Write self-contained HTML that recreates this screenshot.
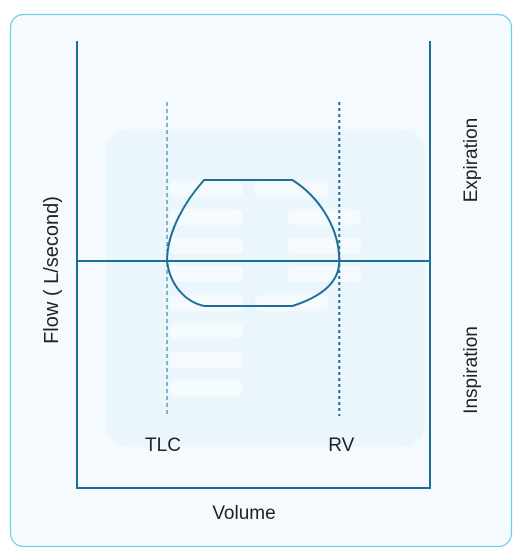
<!DOCTYPE html>
<html><head><meta charset="utf-8"><style>
html,body{margin:0;padding:0;background:#fff;}
svg{display:block;font-family:"Liberation Sans",sans-serif;}
</style></head><body>
<svg width="520" height="555" viewBox="0 0 520 555">
<rect x="10.5" y="14.5" width="501" height="532" rx="13" fill="#f4fafe" stroke="#6ccbee" stroke-width="1.2"/>
<rect x="106" y="129" width="319" height="318" rx="22" fill="#eaf5fc"/>
<g fill="#f5fafe">
<rect x="169" y="181" width="74" height="16" rx="5"/><rect x="255" y="181" width="73" height="16" rx="5"/>
<rect x="169" y="209" width="74" height="16" rx="5"/><rect x="288" y="209" width="73" height="16" rx="5"/>
<rect x="169" y="238" width="74" height="16" rx="5"/><rect x="288" y="238" width="73" height="16" rx="5"/>
<rect x="169" y="266" width="74" height="16" rx="5"/><rect x="288" y="266" width="73" height="16" rx="5"/>
<rect x="169" y="295" width="74" height="16" rx="5"/><rect x="255" y="295" width="73" height="16" rx="5"/>
<rect x="169" y="323" width="74" height="16" rx="5"/>
<rect x="169" y="352" width="74" height="16" rx="5"/>
<rect x="169" y="380" width="74" height="16" rx="5"/>
</g>
<g id="plot"></g>
<text x="244" y="519" font-size="19" fill="#222" text-anchor="middle">Volume</text>
<text transform="translate(58,270) rotate(-90)" font-size="20" fill="#222" text-anchor="middle">Flow ( L/second)</text>
<text transform="translate(477,160) rotate(-90)" font-size="19" fill="#222" text-anchor="middle">Expiration</text>
<text transform="translate(477,370) rotate(-90)" font-size="19" fill="#222" text-anchor="middle">Inspiration</text>
</svg>
<script>
// volume 0..10 maps x 77..430; flow -5..5 maps y 488..41 (0 at 261)
const markerNames = ["TLC", "RV"];
const markerVolumes = [2.55, 7.43];
const loopTopFlow = [1.8];
const loopBottomFlow = [-1.0];
const loopVolumes = [3.6, 6.1];
const NS="http://www.w3.org/2000/svg";
const C="#1c6f96";
function xs(v){return 77+v*35.3;}
function ys(f){return 261-f*45;}
const g=document.getElementById('plot');
function mk(t,a){const e=document.createElementNS(NS,t);for(const k in a)e.setAttribute(k,a[k]);g.appendChild(e);return e;}
let e;
e=mk('path',{d:`M77,41 V488 H430 V41`,fill:'none',stroke:C,'stroke-width':2});


e=mk('line',{x1:77,x2:430,y1:ys(0),y2:ys(0),stroke:C,'stroke-width':2});


markerVolumes.forEach((v,i)=>{
  e=mk('line',{x1:xs(v),x2:xs(v),y1:102,y2:416,stroke:C,'stroke-width':i?2:1,'stroke-dasharray':i?'3,3':'4,3'});
  
  
  e=mk('text',{x:xs(v)+(i?2:-4),y:451,'font-size':19,fill:'#222','text-anchor':'middle'});
  e.textContent=markerNames[i];
  
  
});
const L=xs(markerVolumes[0]),R=xs(markerVolumes[1]),T=ys(loopTopFlow[0]),B=ys(loopBottomFlow[0]);
const a=xs(loopVolumes[0]),b=xs(loopVolumes[1]),z=ys(0);
const d=`M${a},${T} H${b} C${b+24},${T+15} ${R},${T+45} ${R},${z} C${R},${z+25} ${b+22},${B-7} ${b},${B} H${a} C${a-18},${B-4} ${L+3},${B-20} ${L},${z} C${L},${z-30} ${a-18},${T+20} ${a},${T} Z`;
e=mk('path',{d:d,fill:'none',stroke:C,'stroke-width':2});


</script>
</body></html>
